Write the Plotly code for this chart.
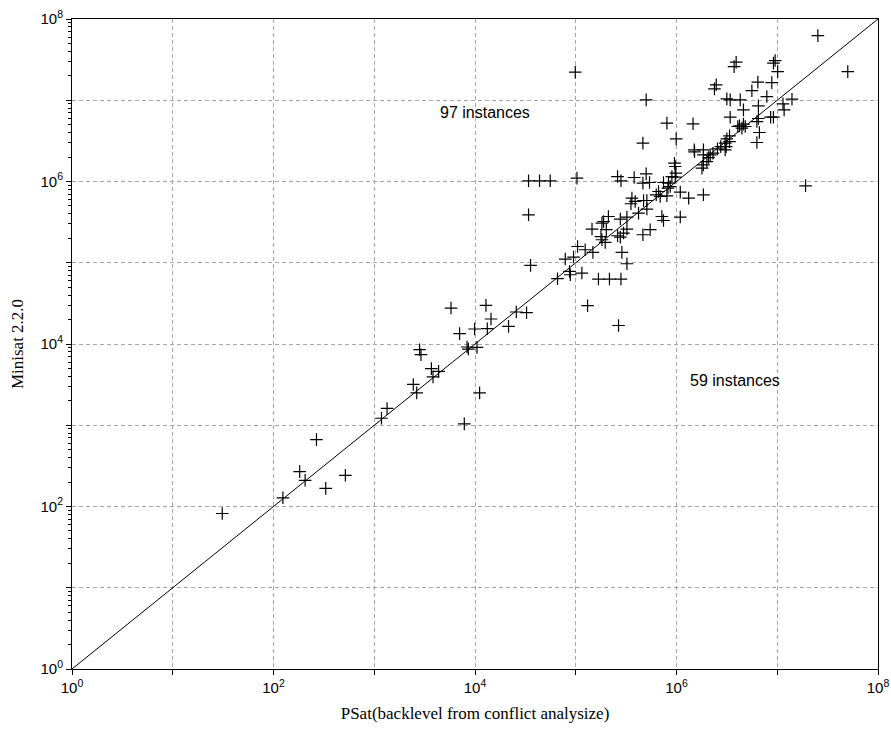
import plotly.graph_objects as go

# PSat (x) vs Minisat 2.2.0 (y)
psat = [
    31, 124, 182, 206, 267, 330, 517,
    5780, 12850, 14420, 9910, 13240, 7030, 25700, 32500, 21530, 2820, 2910,
    8340, 8590, 10470, 3690, 4350, 3830, 2440, 2640, 11110, 1340, 1180, 7830,
    34000, 43700, 55800, 102800, 34000, 104200, 78700, 95100, 35600, 86700,
    88300, 65900,
    260000, 281000, 380000, 500000, 464000, 540000, 955000, 986000, 971000,
    743000, 833000, 867000, 822000, 663000, 629000, 689000, 803000, 1.09e6,
    1.32e6, 1.85e6, 1.79e6, 2.0e6, 361000, 353000, 389000, 471000, 508000,
    508000, 420000, 211000, 189000, 182000, 277000, 322000, 145000, 201000,
    322000, 298000, 260000, 277000, 178000, 182000, 196000, 464000, 548000,
    716000, 743000, 1.09e6, 124000, 148000, 287000, 322000, 115000, 168000,
    216000, 281000, 131000, 266000,
    98900, 500000, 2.38e6, 2.48e6, 803000, 1.46e6, 464000, 993000, 1.50e6,
    1.85e6,
    3.16e6, 3.41e6, 3.41e6, 4.06e6, 1.51e6, 1.85e6, 3.16e6, 3.36e6, 3.04e6,
    2.75e6, 2.55e6, 2.30e6, 2.08e6, 1.85e6, 2.16e6, 3.11e6, 971000, 900000,
    2.53e7, 5.01e7, 3.91e6, 3.73e6, 9.53e6, 9.17e6, 1.01e7, 6.42e6, 5.60e6,
    8.83e6, 7.88e6, 4.29e6, 4.62e6, 6.50e6, 1.40e7, 1.14e7, 1.17e7, 6.50e6,
    6.28e6, 9.17e6, 8.6e6, 4.22e6, 4.62e6, 4.81e6, 4.46e6, 6.65e6, 6.28e6,
    3.36e6, 3.04e6,
    1.91e7,
]
minisat = [
    82, 128, 269, 210, 665, 167, 242,
    27700, 29850, 20300, 15300, 15420, 13400, 24770, 24270, 16480, 8510, 7380,
    9190, 8670, 9080, 4970, 4600, 3930, 3180, 2500, 2500, 1610, 1220, 1040,
    1.02e6, 1.02e6, 1.02e6, 1.10e6, 389000, 158500, 111000, 117500, 92700,
    78200, 71200, 63600,
    1.15e6, 1.02e6, 1.12e6, 1.24e6, 955000, 972000, 1.68e6, 1.27e6, 1.13e6,
    972000, 955000, 867000, 830000, 753000, 686000, 654000, 667000, 741000,
    625000, 686000, 1.46e6, 1.76e6, 625000, 532000, 568000, 584000, 584000,
    458000, 408000, 371000, 322000, 308000, 345000, 365000, 260000, 255000,
    260000, 232000, 215000, 207000, 210000, 192000, 178000, 221000, 255000,
    371000, 331000, 365000, 144500, 134000, 134000, 97200, 74700, 63000,
    63000, 63000, 29600, 16900,
    2.22e7, 1.01e7, 1.38e7, 1.55e7, 5.23e6, 5.13e6, 2.97e6, 3.35e6, 2.45e6,
    2.45e6,
    1.04e7, 1.01e7, 6.19e6, 4.75e6, 2.32e6, 2.13e6, 3.35e6, 3.10e6, 2.97e6,
    2.69e6, 2.52e6, 2.23e6, 1.97e6, 1.60e6, 2.13e6, 2.69e6, 1.53e6, 1.15e6,
    6.25e7, 2.25e7, 2.94e7, 2.59e7, 3.08e7, 2.86e7, 2.25e7, 1.67e7, 1.31e7,
    1.65e7, 1.11e7, 1.01e7, 7.62e6, 8.53e6, 1.03e7, 9.04e6, 7.62e6, 5.96e6,
    5.47e6, 6.19e6, 6.19e6, 4.84e6, 5.08e6, 4.75e6, 4.54e6, 4.01e6, 3.02e6,
    3.65e6, 2.45e6,
    885000,
]

decades = [1, 10, 100, 1e3, 1e4, 1e5, 1e6, 1e7, 1e8]
label_exps = [0, None, 2, None, 4, None, 6, None, 8]
tick_text = ["" if e is None else f"10<sup>{e}</sup>" for e in label_exps]
minor_vals = [k * d for d in decades[:-1] for k in range(2, 10)]

label_above = "97 instances"
label_below = "59 instances"
x_title = "PSat(backlevel from conflict analysize)"
y_title = "Minisat 2.2.0"

fig = go.Figure()
fig.add_trace(go.Scatter(
    x=[decades[0], decades[-1]], y=[decades[0], decades[-1]],
    mode="lines", line=dict(color="black", width=1), hoverinfo="skip",
    showlegend=False,
))
fig.add_trace(go.Scatter(
    x=psat, y=minisat, mode="markers",
    marker=dict(symbol="cross-thin", size=9, color="black",
                line=dict(color="black", width=1.2)),
    showlegend=False,
))

axis_common = dict(
    type="log", range=[0, 8], tickmode="array", tickvals=decades,
    ticktext=tick_text, ticks="outside", ticklen=5, tickcolor="black",
    showline=True, linecolor="black", linewidth=1, mirror=True,
    showgrid=True, gridcolor="#a8a8a8", griddash="4px,3px", gridwidth=1,
    zeroline=False, automargin=False, ticklabeloverflow="allow",
    tickfont=dict(family="Liberation Sans, Arial", size=15, color="black"),
)
fig.update_xaxes(**axis_common,
                 title=dict(text=x_title, standoff=12,
                            font=dict(family="Liberation Serif, Times New Roman",
                                      size=17, color="black")))
fig.update_yaxes(**axis_common,
                 minor=dict(tickmode="array", tickvals=minor_vals,
                            ticks="outside", ticklen=3, tickcolor="black",
                            showgrid=False),
                 title=dict(text=y_title, standoff=12,
                            font=dict(family="Liberation Serif, Times New Roman",
                                      size=17, color="black")))

fig.add_annotation(x=4.1, y=6.845, xref="x", yref="y", text=label_above,
                   showarrow=False,
                   font=dict(family="Liberation Sans, Arial", size=16, color="black"))
fig.add_annotation(x=6.58, y=3.55, xref="x", yref="y", text=label_below,
                   showarrow=False,
                   font=dict(family="Liberation Sans, Arial", size=16, color="black"))

fig.update_layout(
    width=891, height=731,
    margin=dict(l=72, r=13, t=19, b=62, autoexpand=False),
    plot_bgcolor="white", paper_bgcolor="white",
)
# remove the default page margin so the figure fills the window exactly
fig.write_html(
    "out.html",
    config={"displayModeBar": False},
    post_script="document.body.style.margin='0';document.body.style.overflow='hidden';",
)
